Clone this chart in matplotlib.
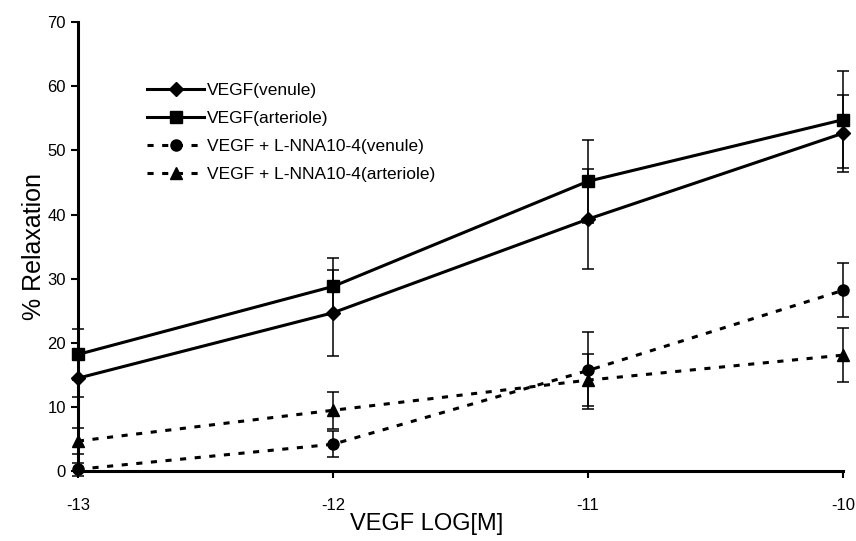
import matplotlib
matplotlib.use('Agg')
import matplotlib.pyplot as plt
from matplotlib.lines import Line2D

plt.rcParams['font.family'] = ['Liberation Sans', 'DejaVu Sans']
plt.rcParams['axes.unicode_minus'] = False

# x positions (log concentration)
conc = [-13, -12, -11, -10]

# % relaxation, means and SEM
venule = [14.5, 24.7, 39.3, 52.7]
venule_err = [3.0, 6.7, 7.8, 6.0]
arteriole = [18.2, 28.8, 45.2, 54.8]
arteriole_err = [4.0, 4.4, 6.5, 7.6]
lnna_venule = [0.3, 4.2, 15.7, 28.2]
lnna_venule_err = [1.0, 2.0, 6.0, 4.2]
lnna_arteriole = [4.7, 9.5, 14.2, 18.1]
lnna_arteriole_err = [2.0, 2.9, 4.0, 4.2]

labels = ['VEGF(venule)', 'VEGF(arteriole)',
          'VEGF + L-NNA10-4(venule)', 'VEGF + L-NNA10-4(arteriole)']

fig = plt.figure(figsize=(8.56, 5.41), dpi=100)
ax = fig.add_axes([0.091, 0.129, 0.894, 0.83])

dots = (0, (2.0, 2.8))
series = [
    (venule, venule_err, 'D', '-', 7),
    (arteriole, arteriole_err, 's', '-', 8),
    (lnna_venule, lnna_venule_err, 'o', dots, 8),
    (lnna_arteriole, lnna_arteriole_err, '^', dots, 8.5),
]
handles = []
for (vals, err, mk, ls, ms), lab in zip(series, labels):
    ax.errorbar(conc, vals, yerr=err, color='black', lw=2.2, ls=ls,
                marker=mk, ms=ms, elinewidth=1.1, capsize=4.5, capthick=1.1,
                clip_on=False, zorder=3)
    handles.append(Line2D([], [], color='black', lw=2.2, ls=ls,
                          marker=mk, ms=ms, label=lab))

ax.set_xlim(-13, -10)
ax.set_ylim(0, 70)
ax.set_xticks(conc)
ax.set_yticks(range(0, 71, 10))
ax.spines['top'].set_visible(False)
ax.spines['right'].set_visible(False)
ax.spines['left'].set_linewidth(2.2)
ax.spines['bottom'].set_linewidth(2.2)
ax.tick_params(axis='both', labelsize=12, width=1.5, length=5, direction='out')
ax.tick_params(axis='x', pad=14)

ax.set_xlabel('VEGF LOG[M]', fontsize=17)
ax.xaxis.set_label_coords(0.456, -0.094)
ax.set_ylabel('% Relaxation', fontsize=18)
ax.yaxis.set_label_coords(-0.042, 0.5)

ax.legend(handles=handles, loc='upper left', bbox_to_anchor=(0.07, 0.9),
          frameon=False, fontsize=12.5, handlelength=3.3,
          handletextpad=0.15, labelspacing=0.75)

fig.savefig('out.png', dpi=100)
